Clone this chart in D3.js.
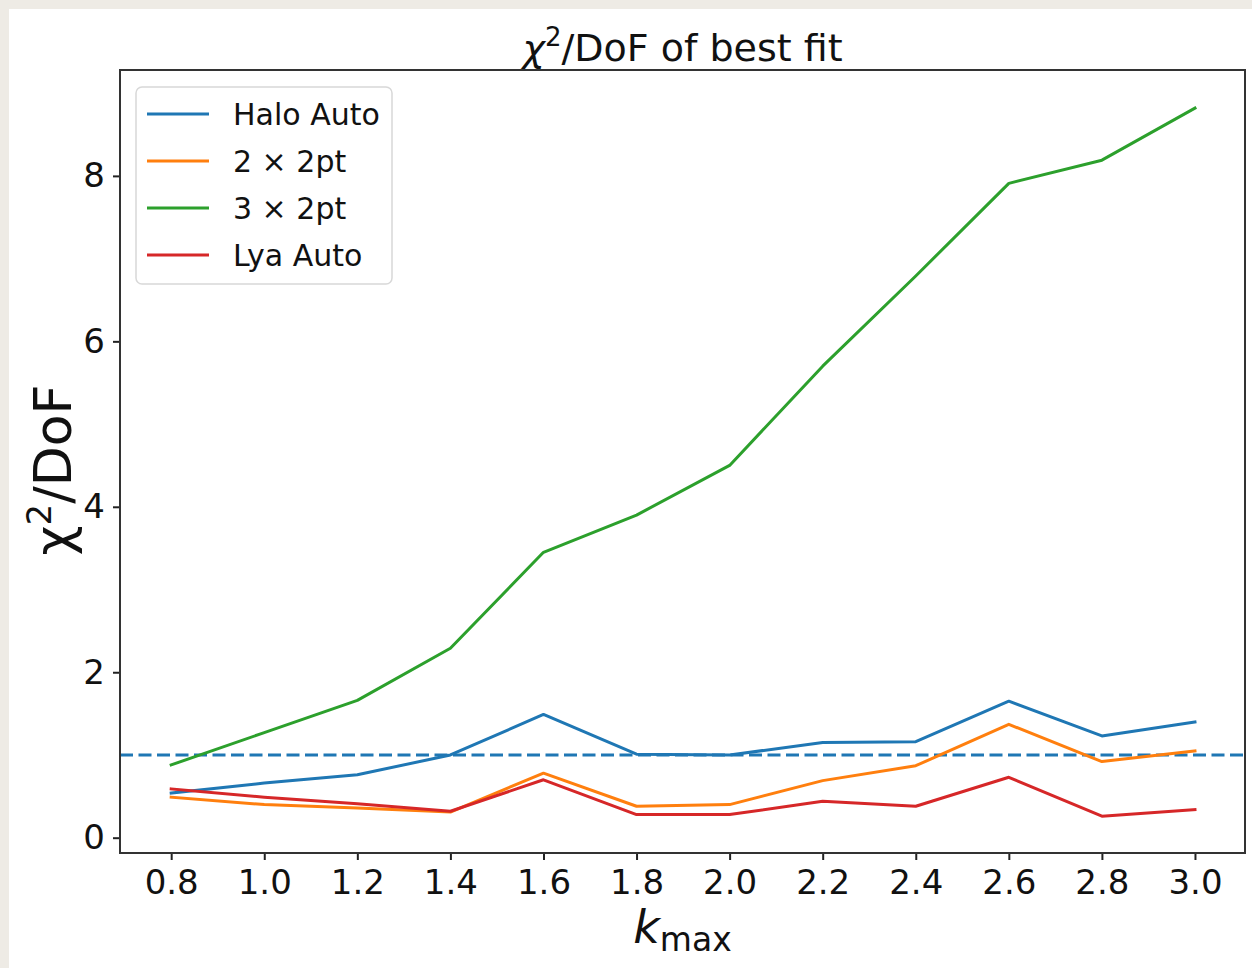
<!DOCTYPE html>
<html>
<head>
<meta charset="utf-8">
<script src="https://cdn.jsdelivr.net/npm/d3@7"></script>
<style>
  html, body { margin: 0; padding: 0; background: #eeebe5; }
  svg { display: block; }
  text { font-family: "DejaVu Sans", sans-serif; fill: #111; }
</style>
</head>
<body>
<svg id="chart" width="1252" height="968"></svg>
<script>
const kmax = [0.8, 1.0, 1.2, 1.4, 1.6, 1.8, 2.0, 2.2, 2.4, 2.6, 2.8, 3.0];
const haloAuto = [0.54, 0.66, 0.76, 1.00, 1.49, 1.01, 1.00, 1.15, 1.16, 1.65, 1.23, 1.40];
const twoX2pt  = [0.49, 0.40, 0.36, 0.31, 0.78, 0.38, 0.40, 0.69, 0.87, 1.37, 0.92, 1.05];
const threeX2pt = [0.88, 1.27, 1.66, 2.29, 3.45, 3.90, 4.50, 5.70, 6.79, 7.91, 8.19, 8.82];
const lyaAuto  = [0.59, 0.49, 0.41, 0.32, 0.70, 0.28, 0.28, 0.44, 0.38, 0.73, 0.26, 0.34];
const seriesNames = ["Halo Auto", "2 × 2pt", "3 × 2pt", "Lya Auto"];
const seriesColors = ["#1f77b4", "#ff7f0e", "#2ca02c", "#d62728"];
const xTicks = [0.8, 1.0, 1.2, 1.4, 1.6, 1.8, 2.0, 2.2, 2.4, 2.6, 2.8, 3.0];
const yTicks = [0, 2, 4, 6, 8];
const refLine = 1.0;

const series = [haloAuto, twoX2pt, threeX2pt, lyaAuto].map((vals, i) => ({
  name: seriesNames[i], color: seriesColors[i],
  points: vals.map((v, j) => [kmax[j], v])
}));

const svg = d3.select("#chart");
// white panel
svg.append("rect").attr("x", 9).attr("y", 9).attr("width", 1243).attr("height", 959).attr("fill", "#ffffff");

const L = 120, R = 1245, T = 70, B = 853;
const x = d3.scaleLinear().domain([0.69, 3.1075]).range([L, R]);
const y = d3.scaleLinear().domain([-0.185, 9.28]).range([B, T]);

// clip
svg.append("clipPath").attr("id", "clip").append("rect")
  .attr("x", L).attr("y", T).attr("width", R - L).attr("height", B - T);

const plot = svg.append("g").attr("clip-path", "url(#clip)");

// reference dashed line
plot.append("line")
  .attr("x1", L).attr("x2", R)
  .attr("y1", y(refLine)).attr("y2", y(refLine))
  .attr("stroke", "#1f77b4").attr("stroke-width", 3)
  .attr("stroke-dasharray", "13,5.5");

const line = d3.line().x(d => x(d[0])).y(d => y(d[1]));
series.forEach(s => {
  plot.append("path").datum(s.points)
    .attr("d", line).attr("fill", "none")
    .attr("stroke", s.color).attr("stroke-width", 3)
    .attr("stroke-linejoin", "round").attr("stroke-linecap", "square");
});

// axes
const xAxis = d3.axisBottom(x).tickValues(xTicks).tickFormat(d3.format(".1f")).tickSize(7).tickPadding(8);
const yAxis = d3.axisLeft(y).tickValues(yTicks).tickFormat(d3.format("d")).tickSize(7).tickPadding(8);

const gx = svg.append("g").attr("transform", `translate(0,${B})`).call(xAxis);
const gy = svg.append("g").attr("transform", `translate(${L},0)`).call(yAxis);
[gx, gy].forEach(g => {
  g.select(".domain").remove();
  g.selectAll(".tick line").attr("stroke", "#222").attr("stroke-width", 2);
  g.selectAll(".tick text").attr("font-size", 34).attr("font-family", "DejaVu Sans").attr("fill", "#111");
});
gx.selectAll(".tick text").attr("dy", "0.75em");

// frame
svg.append("rect").attr("x", L).attr("y", T).attr("width", R - L).attr("height", B - T)
  .attr("fill", "none").attr("stroke", "#333").attr("stroke-width", 2);

// title
const title = svg.append("text").attr("x", (L + R) / 2).attr("y", 61)
  .attr("text-anchor", "middle").attr("font-size", 38);
title.append("tspan").attr("font-style", "italic").text("χ");
title.append("tspan").attr("font-size", 26).attr("dy", -15).text("2");
title.append("tspan").attr("dy", 15).text("/DoF of best fit");

// x label
const xl = svg.append("text").attr("x", (L + R) / 2).attr("y", 943)
  .attr("text-anchor", "middle").attr("font-size", 46);
xl.append("tspan").attr("font-style", "italic").text("k");
xl.append("tspan").attr("font-size", 33).attr("dy", 8).text("max");

// y label
const yl = svg.append("text").attr("transform", `translate(71,470) rotate(-90)`)
  .attr("text-anchor", "middle").attr("font-size", 52);
yl.append("tspan").text("χ");
yl.append("tspan").attr("font-size", 34).attr("dy", -20).text("2");
yl.append("tspan").attr("dy", 20).text("/DoF");

// legend
const lg = svg.append("g");
lg.append("rect").attr("x", 136).attr("y", 87).attr("width", 256).attr("height", 197)
  .attr("rx", 6).attr("fill", "#fff").attr("stroke", "#d8d8d8").attr("stroke-width", 1.5);
series.forEach((s, i) => {
  const yy = 114 + i * 47;
  lg.append("line").attr("x1", 147).attr("x2", 209).attr("y1", yy).attr("y2", yy)
    .attr("stroke", s.color).attr("stroke-width", 3);
  lg.append("text").attr("x", 233).attr("y", yy).attr("dy", "0.36em")
    .attr("font-size", 30).text(s.name);
});
</script>
</body>
</html>
